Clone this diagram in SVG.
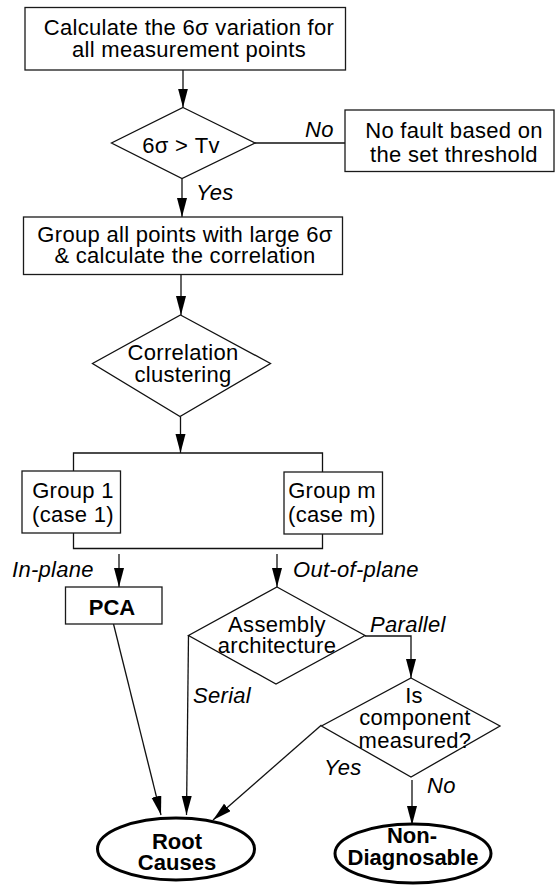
<svg xmlns="http://www.w3.org/2000/svg" width="558" height="885" viewBox="0 0 558 885">
  <style>
    .box { fill: #fff; stroke: #1a1a1a; stroke-width: 1.3; }
    .dia { fill: #fff; stroke: #111; stroke-width: 1.3; }
    .term { fill: #fff; stroke: #000; stroke-width: 3; }
    .edge { fill: none; stroke: #111; stroke-width: 1.3; }
    .arrow { marker-end: url(#head); }
    text { font-family: "Liberation Sans", Arial, Helvetica, sans-serif; font-size: 22px; fill: #000; letter-spacing: 0.3px; }
    .c { text-anchor: middle; }
    .lbl { font-style: italic; }
    .b { font-weight: bold; letter-spacing: 0; }
  </style>
  <defs>
    <marker id="head" markerUnits="userSpaceOnUse" markerWidth="20" markerHeight="11" refX="19" refY="5" orient="auto">
      <path d="M0,0 L19,5 L0,10 Z" fill="#000"/>
    </marker>
  </defs>

  <!-- connectors -->
  <g id="connectors">
    <line class="edge arrow" x1="183" y1="70" x2="183" y2="107.5"/>
    <line class="edge" x1="255" y1="143" x2="345" y2="143"/>
    <line class="edge arrow" x1="182" y1="178.5" x2="182" y2="217"/>
    <line class="edge arrow" x1="181" y1="274.5" x2="181" y2="315"/>
    <line class="edge arrow" x1="180.5" y1="416.5" x2="180.5" y2="453"/>
    <!-- split to the groups -->
    <polyline class="edge" points="73.5,471 73.5,453 322.5,453 322.5,472"/>
    <!-- join below the groups -->
    <polyline class="edge" points="73.5,533 73.5,548.5 322.5,548.5 322.5,534"/>
    <line class="edge arrow" x1="119" y1="554" x2="119" y2="587"/>
    <line class="edge arrow" x1="277" y1="554" x2="277" y2="587"/>
    <!-- PCA to root causes -->
    <line class="edge arrow" x1="113.5" y1="624" x2="161" y2="815"/>
    <!-- serial -->
    <line class="edge arrow" x1="188.5" y1="635" x2="186.5" y2="815"/>
    <!-- parallel -->
    <polyline class="edge arrow" points="365,636 411,636 411,678"/>
    <!-- component measured: yes / no -->
    <line class="edge arrow" x1="321.5" y1="725" x2="213" y2="820"/>
    <line class="edge arrow" x1="412" y1="780" x2="412" y2="825"/>
  </g>

  <!-- connector labels -->
  <g id="labels">
    <text class="lbl" x="305" y="137">No</text>
    <text class="lbl" x="196" y="200">Yes</text>
    <text class="lbl" x="12" y="577">In-plane</text>
    <text class="lbl" x="293" y="577">Out-of-plane</text>
    <text class="lbl" x="370" y="632">Parallel</text>
    <text class="lbl" x="193" y="703">Serial</text>
    <text class="lbl" x="324" y="775">Yes</text>
    <text class="lbl" x="427" y="793">No</text>
  </g>

  <g id="calc-variation">
    <rect class="box" x="25" y="7.5" width="320.5" height="62.5"/>
    <text class="c" x="189" y="35">Calculate the 6σ variation for</text>
    <text class="c" x="189" y="57">all measurement points</text>
  </g>

  <g id="threshold-check">
    <polygon class="dia" points="183,107.5 255,143 182,178.5 111.5,143"/>
    <text class="c" x="181" y="153">6σ &gt; Tv</text>
  </g>

  <g id="no-fault">
    <rect class="box" x="345" y="110" width="209" height="61.5"/>
    <text class="c" x="454" y="138">No fault based on</text>
    <text class="c" x="454" y="161.5">the set threshold</text>
  </g>

  <g id="group-correlate">
    <rect class="box" x="23.5" y="217" width="319" height="57.5"/>
    <text class="c" x="185" y="241.5">Group all points with large 6σ</text>
    <text class="c" x="185" y="262.5">&amp; calculate the correlation</text>
  </g>

  <g id="correlation-clustering">
    <polygon class="dia" points="180.5,315 270.5,363.5 180,416.5 92.5,363.5"/>
    <text class="c" x="183" y="360">Correlation</text>
    <text class="c" x="183" y="381.5">clustering</text>
  </g>

  <g id="group-1">
    <rect class="box" x="22" y="471" width="98.5" height="62"/>
    <text class="c" x="73" y="498">Group 1</text>
    <text class="c" x="73" y="521.5">(case 1)</text>
  </g>

  <g id="group-m">
    <rect class="box" x="284" y="472" width="98.5" height="62"/>
    <text class="c" x="332" y="498">Group m</text>
    <text class="c" x="332" y="522">(case m)</text>
  </g>

  <g id="pca">
    <rect class="box" x="65.5" y="587" width="96.5" height="37"/>
    <text class="c b" x="112" y="615">PCA</text>
  </g>

  <g id="assembly-architecture">
    <polygon class="dia" points="277,587 365,635.5 276,684 188.5,635.5"/>
    <text class="c" x="277" y="632">Assembly</text>
    <text class="c" x="277" y="653">architecture</text>
  </g>

  <g id="component-measured">
    <polygon class="dia" points="411,678 500,726 411,777 321.5,726"/>
    <text class="c" x="414" y="703">Is</text>
    <text class="c" x="415" y="725">component</text>
    <text class="c" x="415" y="748">measured?</text>
  </g>

  <g id="root-causes">
    <ellipse class="term" cx="176" cy="849" rx="78.5" ry="31"/>
    <text class="c b" x="177" y="849">Root</text>
    <text class="c b" x="177" y="870">Causes</text>
  </g>

  <g id="non-diagnosable">
    <ellipse class="term" cx="413" cy="853.5" rx="78" ry="29.5"/>
    <text class="c b" x="412" y="843">Non-</text>
    <text class="c b" x="413" y="865">Diagnosable</text>
  </g>
</svg>
